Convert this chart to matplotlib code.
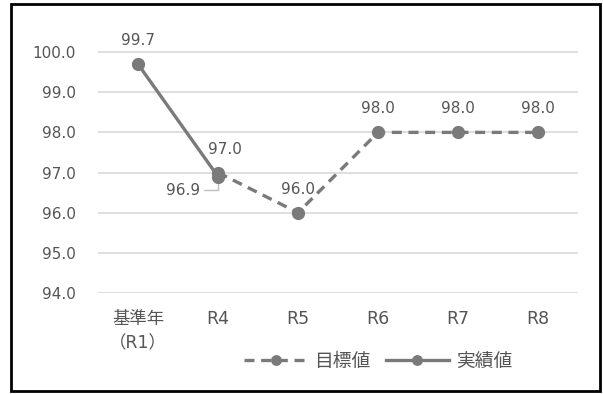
import matplotlib
matplotlib.use("Agg")
import matplotlib.pyplot as plt
from matplotlib.patches import Rectangle
import numpy as np

plt.rcParams['font.family'] = ['DejaVu Sans', 'Noto Sans CJK JP']

categories = ["基準年\n（R1）", "R4", "R5", "R6", "R7", "R8"]
target = [np.nan, 97.0, 96.0, 98.0, 98.0, 98.0]
actual = [99.7, 96.9, np.nan, np.nan, np.nan, np.nan]
yticks = [94.0, 95.0, 96.0, 97.0, 98.0, 99.0, 100.0]

W, H = 603, 394
fig = plt.figure(figsize=(W / 100, H / 100), dpi=100)
ax = fig.add_axes([98 / W, 1 - 293 / H, 480 / W, (293 - 32) / H])

col = '#7a7a7a'
txt = '#555555'
x = np.arange(len(categories))

ax.plot(x, target, color=col, lw=2.4, ls=(0, (3, 2)), marker='o', ms=8.5,
        label='目標値', zorder=3)
ax.plot(x, actual, color=col, lw=2.4, ls='-', marker='o', ms=8.5,
        label='実績値', zorder=4)

fs = 11
ax.set_xlim(-0.5, len(categories) - 0.5)
ax.set_ylim(94.0, 100.5)
ax.set_yticks(yticks)
ax.set_yticklabels([f"{v:.1f}" for v in yticks])
ax.set_xticks(x)
ax.set_xticklabels(categories, linespacing=1.45)
ax.tick_params(axis='both', length=0, labelcolor=txt)
ax.tick_params(axis='y', pad=16, labelsize=fs)
ax.tick_params(axis='x', pad=12, labelsize=12.5)
ax.grid(axis='y', color='#d9d9d9', lw=1.2)
ax.set_axisbelow(True)
for s in ax.spines.values():
    s.set_visible(False)

# target labels
for i, v in enumerate(target):
    if np.isnan(v):
        continue
    dx = 5 if i == 1 else 0
    ax.annotate(f"{v:.1f}", (x[i], v), xytext=(dx, 11.5), textcoords='offset points',
                ha='center', va='bottom', fontsize=fs, color=txt)
# actual labels
ax.annotate(f"{actual[0]:.1f}", (x[0], actual[0]), xytext=(0, 11.5),
            textcoords='offset points', ha='center', va='bottom', fontsize=fs, color=txt)
ax.annotate(f"{actual[1]:.1f}", (x[1], actual[1]), xytext=(-13, -10),
            textcoords='offset points', ha='right', va='center', fontsize=fs, color=txt,
            arrowprops=dict(arrowstyle='-', color='#bfbfbf', lw=1,
                            connectionstyle='angle,angleA=0,angleB=90,rad=0',
                            shrinkA=1, shrinkB=3))

leg = fig.legend(loc='center', bbox_to_anchor=(378 / W, 1 - 361 / H), ncol=2,
                 frameon=False, fontsize=13.5, handlelength=3.4, columnspacing=0.8,
                 handletextpad=0.35, markerscale=0.8)
for t in leg.get_texts():
    t.set_color(txt)

fig.patches.append(Rectangle((11 / W, 1 - 391 / H), 589 / W, 387 / H,
                             transform=fig.transFigure, fill=False,
                             edgecolor='black', lw=2))

fig.savefig('out.png', dpi=100)
